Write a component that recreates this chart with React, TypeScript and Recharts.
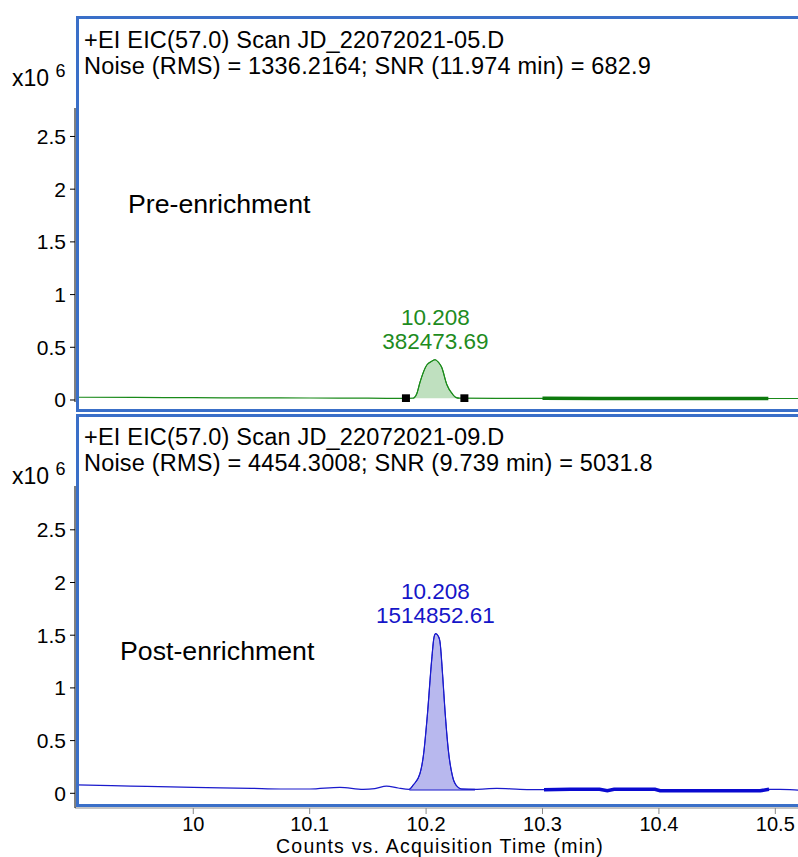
import React from "react";
import { ComposedChart, Line, Area, Scatter, XAxis, YAxis } from "recharts";

const FONT = "'Liberation Sans', Arial, sans-serif";

const xTicks = [10, 10.1, 10.2, 10.3, 10.4, 10.5];
const yTicks = [0, 0.5, 1, 1.5, 2, 2.5];

// Pre-enrichment trace (counts x10^6)
const preTime = [9.9, 9.95, 10.0, 10.05, 10.1, 10.15, 10.18, 10.189, 10.192, 10.1948, 10.2005, 10.2045, 10.2077, 10.2105, 10.2134, 10.2177, 10.2231, 10.2255, 10.2285, 10.26, 10.3, 10.35, 10.4, 10.45, 10.5, 10.53];
const preSignal = [0.026, 0.024, 0.022, 0.02, 0.019, 0.017, 0.016, 0.018, 0.06, 0.17, 0.33, 0.365, 0.382, 0.36, 0.31, 0.15, 0.05, 0.025, 0.017, 0.016, 0.016, 0.015, 0.015, 0.015, 0.014, 0.014];
const preMarkersTime = [10.1827, 10.2329];
const preMarkersSignal = [0.016, 0.016];

// Post-enrichment trace (counts x10^6)
const postTime = [9.9, 9.93, 9.96, 10.0, 10.05, 10.075, 10.1, 10.126, 10.146, 10.156, 10.166, 10.176, 10.1856, 10.189, 10.1948, 10.1976, 10.201, 10.2048, 10.2068, 10.2082, 10.2105, 10.2119, 10.2143, 10.2162, 10.2191, 10.2228, 10.2268, 10.2306, 10.242, 10.2606, 10.2807, 10.3013, 10.3236, 10.349, 10.3557, 10.3615, 10.3966, 10.401, 10.487, 10.4946, 10.504, 10.5195, 10.53];
const postSignal = [0.079, 0.072, 0.066, 0.057, 0.047, 0.041, 0.041, 0.057, 0.038, 0.045, 0.069, 0.05, 0.038, 0.079, 0.19, 0.35, 0.73, 1.265, 1.48, 1.515, 1.49, 1.44, 1.106, 0.79, 0.41, 0.157, 0.063, 0.041, 0.038, 0.047, 0.038, 0.034, 0.038, 0.038, 0.024, 0.038, 0.038, 0.024, 0.024, 0.038, 0.038, 0.031, 0.03];

const prePeak = { rt: "10.208", area: "382473.69", t: 10.208, v: 0.382 };
const postPeak = { rt: "10.208", area: "1514852.61", t: 10.208, v: 1.515 };

const zip = (ts: number[], vs: number[]) => ts.map((t, i) => ({ t, v: vs[i] }));

const preData = zip(preTime, preSignal);
const postData = zip(postTime, postSignal);
const preFill = preData.filter((d) => d.t >= 10.189 && d.t <= 10.2285);
const postFill = postData.filter((d) => d.t >= 10.1856 && d.t <= 10.242);
const preThick = preData.filter((d) => d.t >= 10.3 && d.t <= 10.495).concat([{ t: 10.494, v: 0.015 }]);
const postThick = postData.filter((d) => d.t >= 10.301 && d.t <= 10.495);
const preMarkers = zip(preMarkersTime, preMarkersSignal);
const postBase = [{ t: 10.1856, v: 0.031 }, { t: 10.242, v: 0.031 }];

const X_DOMAIN: [number, number] = [9.8984, 10.5255];

const makeLabelShape = (color: string, rt: string, area: string) => (props: any) => {
  const { cx, cy } = props;
  return (
    <g>
      <text x={cx} y={cy - 42} textAnchor="middle" dominantBaseline="central" fill={color} fontSize={22.5} fontFamily={FONT}>{rt}</text>
      <text x={cx} y={cy - 18} textAnchor="middle" dominantBaseline="central" fill={color} fontSize={22.5} fontFamily={FONT}>{area}</text>
    </g>
  );
};

const yAxisProps = {
  type: "number" as const,
  ticks: yTicks,
  interval: 0 as const,
  allowDataOverflow: true,
  width: 60,
  tickSize: 5,
  tickMargin: 4,
  axisLine: { stroke: "#000" },
  tickLine: { stroke: "#000" },
  tick: { fill: "#000", fontSize: 21, fontFamily: FONT },
  tickFormatter: (v: number) => String(v),
};

const FRAME = "#3a6fc8";

const headerStyle: React.CSSProperties = { position: "absolute", left: 84, fontSize: 23.5, letterSpacing: 0.2, lineHeight: "26px", whiteSpace: "nowrap", color: "#000" };
const expStyle: React.CSSProperties = { position: "absolute", left: 12, fontSize: 23, lineHeight: "26px", whiteSpace: "nowrap" };
const noteStyle: React.CSSProperties = { position: "absolute", fontSize: 26.7, lineHeight: "32px", whiteSpace: "nowrap" };

export default function App() {
  return (
    <div style={{ position: "absolute", left: 0, top: 0, width: 798, height: 857, overflow: "hidden", background: "#fff", fontFamily: FONT }}>
      {/* Top panel */}
      <div style={{ position: "absolute", left: 0, top: 0 }}>
        <ComposedChart width={810} height={411} margin={{ top: 108, right: 5, bottom: 9, left: 15 }}>
          <XAxis dataKey="t" type="number" domain={X_DOMAIN} allowDataOverflow hide />
          <YAxis {...yAxisProps} domain={[-0.019, 2.77]} />
          <Area data={preFill} dataKey="v" type="monotone" baseValue={0.016} fill="#bfe0bf" fillOpacity={1} stroke="#1a8a1a" strokeWidth={1} isAnimationActive={false} />
          <Line data={preData} dataKey="v" type="monotone" stroke="#1a8a1a" strokeWidth={1.2} dot={false} isAnimationActive={false} />
          <Line data={preThick} dataKey="v" type="linear" stroke="#0d7a0d" strokeWidth={3.5} dot={false} isAnimationActive={false} />
          <Scatter data={preMarkers} dataKey="v" shape="square" fill="#000" isAnimationActive={false} />
          <Scatter data={[prePeak]} dataKey="v" shape={makeLabelShape("#1e8c1e", prePeak.rt, prePeak.area)} isAnimationActive={false} />
        </ComposedChart>
      </div>
      {/* Bottom panel */}
      <div style={{ position: "absolute", left: 0, top: 411 }}>
        <ComposedChart width={810} height={446} margin={{ top: 75, right: 5, bottom: 0, left: 15 }}>
          <XAxis
            dataKey="t"
            type="number"
            domain={X_DOMAIN}
            allowDataOverflow
            ticks={xTicks}
            interval={0}
            height={49}
            tickSize={6}
            tickMargin={3}
            axisLine={{ stroke: "#8a8a8a" }}
            tickLine={{ stroke: "#8a8a8a" }}
            tick={{ fill: "#000", fontSize: 20, fontFamily: FONT }}
            tickFormatter={(v: number) => String(v)}
            label={{ value: "Counts vs. Acquisition Time (min)", position: "insideBottom", offset: 4.5, fill: "#000", fontSize: 19.5, letterSpacing: 1.2, fontFamily: FONT }}
          />
          <YAxis {...yAxisProps} domain={[-0.1395, 2.9156]} />
          <Area data={postFill} dataKey="v" type="monotone" baseValue={0.031} fill="#b8b8ee" fillOpacity={1} stroke="#1a1acc" strokeWidth={1} isAnimationActive={false} />
          <Line data={postBase} dataKey="v" type="linear" stroke="#1a1acc" strokeWidth={1} dot={false} isAnimationActive={false} />
          <Line data={postData} dataKey="v" type="monotone" stroke="#1a1acc" strokeWidth={1.2} dot={false} isAnimationActive={false} />
          <Line data={postThick} dataKey="v" type="linear" stroke="#0a0ad0" strokeWidth={3.5} dot={false} isAnimationActive={false} />
          <Scatter data={[postPeak]} dataKey="v" shape={makeLabelShape("#1515c8", postPeak.rt, postPeak.area)} isAnimationActive={false} />
        </ComposedChart>
      </div>

      {/* Frames */}
      <div style={{ position: "absolute", left: 76, top: 16, width: 740, height: 396, border: `3px solid ${FRAME}`, boxSizing: "border-box", pointerEvents: "none" }} />
      <div style={{ position: "absolute", left: 76, top: 414, width: 740, height: 393, border: `3px solid ${FRAME}`, boxSizing: "border-box", pointerEvents: "none" }} />

      {/* Header texts */}
      <div style={{ ...headerStyle, top: 27 }}>
        <div>+EI EIC(57.0) Scan JD_22072021-05.D</div>
        <div>Noise (RMS) = 1336.2164; SNR (11.974 min) = 682.9</div>
      </div>
      <div style={{ ...headerStyle, top: 424 }}>
        <div>+EI EIC(57.0) Scan JD_22072021-09.D</div>
        <div>Noise (RMS) = 4454.3008; SNR (9.739 min) = 5031.8</div>
      </div>

      {/* Exponent labels */}
      <div style={{ ...expStyle, top: 65 }}>
        x10 <span style={{ fontSize: 18, position: "relative", top: -9 }}>6</span>
      </div>
      <div style={{ ...expStyle, top: 463 }}>
        x10 <span style={{ fontSize: 18, position: "relative", top: -9 }}>6</span>
      </div>

      {/* Panel annotations */}
      <div style={{ ...noteStyle, left: 128, top: 188 }}>Pre-enrichment</div>
      <div style={{ ...noteStyle, left: 120, top: 635 }}>Post-enrichment</div>
    </div>
  );
}
